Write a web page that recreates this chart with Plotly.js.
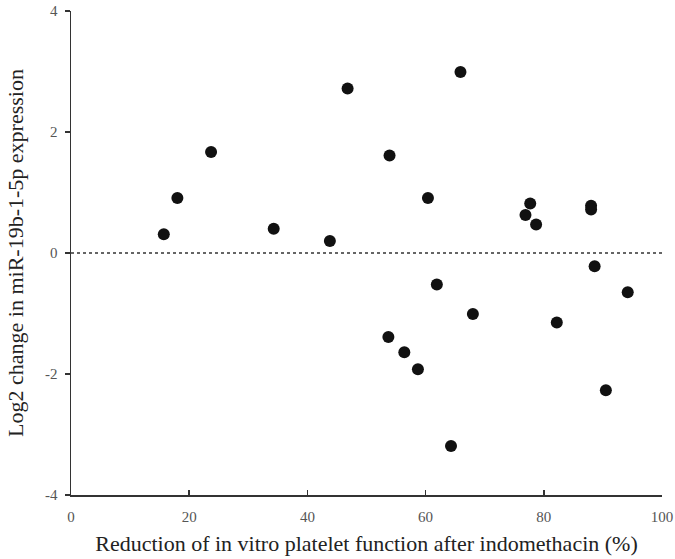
<!DOCTYPE html>
<html>
<head>
<meta charset="utf-8">
<script src="https://cdn.plot.ly/plotly-3.0.1.min.js"></script>
<style>html,body{margin:0;padding:0;background:#fff;}#chart{width:675px;height:559px;}</style>
</head>
<body>
<div id="chart"></div>
<script>
const reductionPct = [15.7, 18.0, 23.7, 34.3, 43.8, 46.8, 53.9, 53.7, 56.4, 58.7, 60.4, 61.9, 64.3, 65.9, 68.0, 76.9, 77.7, 78.7, 82.2, 88.0, 88.0, 88.6, 90.5, 94.2];
const log2Change   = [0.31, 0.91, 1.67, 0.40, 0.20, 2.72, 1.61, -1.39, -1.64, -1.92, 0.91, -0.52, -3.19, 2.99, -1.01, 0.63, 0.82, 0.47, -1.15, 0.78, 0.72, -0.22, -2.27, -0.65];
const xTicks = [0, 20, 40, 60, 80, 100];
const yTicks = [-4, -2, 0, 2, 4];

const font = "'Liberation Serif', 'DejaVu Serif', serif";
Plotly.newPlot('chart', [{
  type: 'scatter', mode: 'markers',
  x: reductionPct, y: log2Change,
  marker: {size: 12, color: '#111111'},
  hoverinfo: 'x+y'
}], {
  width: 675, height: 559,
  margin: {l: 71, r: 13, t: 11, b: 64},
  paper_bgcolor: '#fff', plot_bgcolor: '#fff',
  font: {family: font, color: '#222', size: 15},
  showlegend: false,
  xaxis: {
    range: [0, 100], tickvals: xTicks, ticktext: xTicks.map(String),
    showgrid: false, zeroline: false, showline: true, linecolor: '#333', linewidth: 1.5,
    ticks: 'inside', ticklen: 5, tickcolor: '#333', tickwidth: 1.5,
    ticklabelstandoff: 7,
    tickfont: {family: font, size: 15, color: '#555'},
    title: {text: 'Reduction of in vitro platelet function after indomethacin (%)', font: {family: font, size: 22, color: '#222'}, standoff: 12}
  },
  yaxis: {
    range: [-4, 4], tickvals: yTicks, ticktext: yTicks.map(String),
    showgrid: false, zeroline: false, showline: true, linecolor: '#333', linewidth: 1.5,
    ticks: 'outside', ticklen: 5, tickcolor: '#333', tickwidth: 1.5,
    ticklabelstandoff: 4,
    tickfont: {family: font, size: 15, color: '#555'},
    title: {text: 'Log2 change in miR-19b-1-5p expression', font: {family: font, size: 22, color: '#222'}, standoff: 15}
  },
  shapes: [{type: 'line', xref: 'x', yref: 'y', x0: 0, x1: 100, y0: 0, y1: 0,
            line: {color: '#333', width: 1.5, dash: 'dot'}}]
}, {displayModeBar: false, staticPlot: true});
</script>
</body>
</html>
